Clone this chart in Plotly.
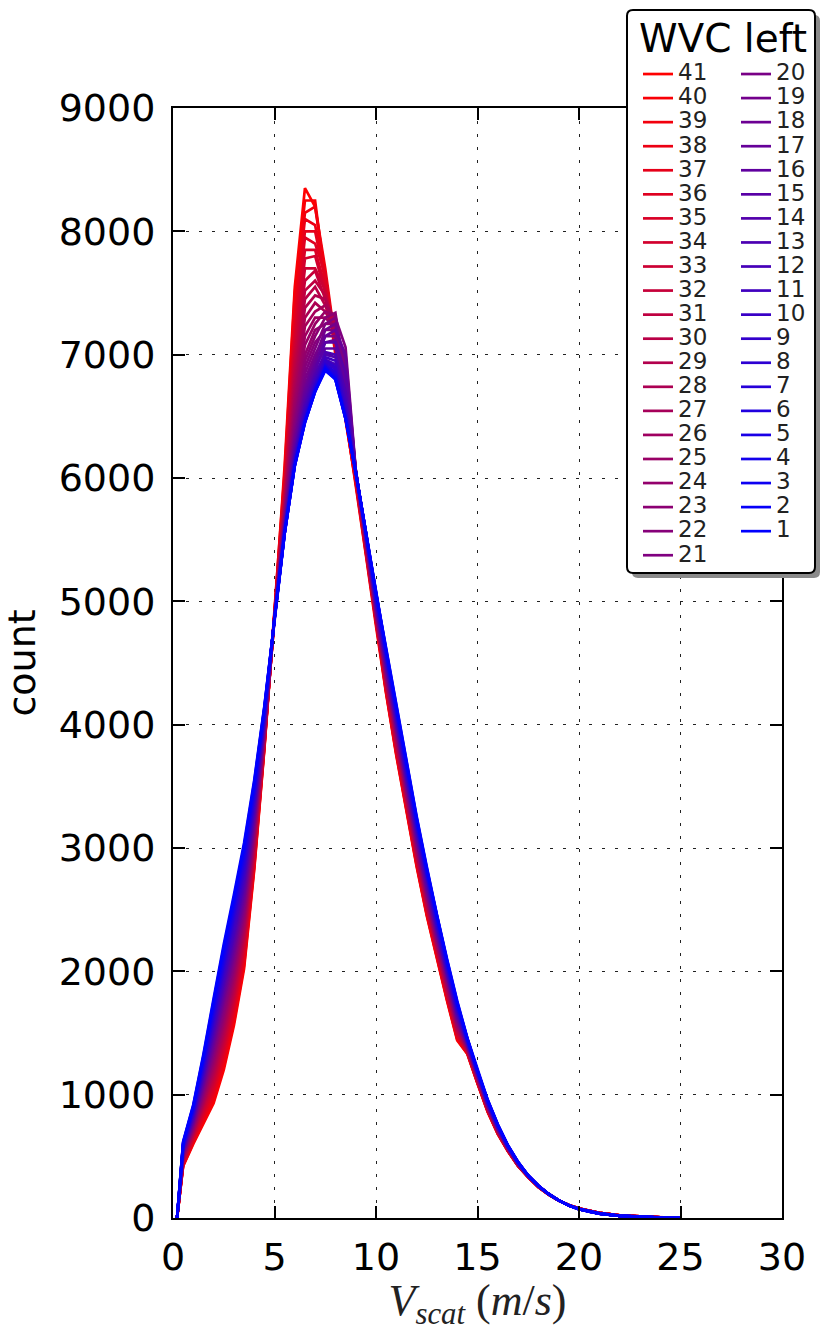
import plotly.graph_objects as go

# wind speed bin positions (m/s)
v_scat = [0.2, 0.5, 1.0, 1.5, 2.0, 2.5, 3.0, 3.5, 4.0, 4.5, 5.0,
          5.5, 6.0, 6.5, 7.0, 7.5, 8.0, 8.5, 9.0, 9.5,
          10.0, 10.5, 11.0, 11.5, 12.0, 12.5, 13.0, 13.5, 14.0, 14.5, 15.0, 15.5, 16.0, 16.5, 17.0, 17.5,
          18.0, 18.5, 19.0, 19.5, 20.0, 20.5, 21.0, 22.0, 23.0, 24.0, 25.0]

wvc41 = [0, 420,600,760,930,1200,1560,2020,2820,3800,4900, 6100,7550,8350,8200,7650,7050,6500,5950,5380, 4800,4250,3750,3300,2850,2450,2100,1760,1440,1330,1090,860,680,540,420,330, 250,190,142,105,78,57,42,22,11,5,2]
wvc40 = [0, 425,608,774,951,1226,1587,2046,2838,3809,4899, 6050,7500,8250,8250,7600,7000,6480,5960,5390, 4807,4259,3760,3310,2860,2460,2109,1769,1448,1333,1093,863,682,541,421,330, 251,190,141,104,77,57,41,21,11,5,2]
wvc39 = [0, 430,616,789,973,1251,1613,2071,2857,3818,4898, 6000,7420,8150,8200,7700,7100,6470,5970,5400, 4814,4269,3771,3320,2871,2470,2118,1777,1456,1337,1096,865,684,543,422,331, 250,191,142,105,78,56,42,22,10,5,2]
wvc38 = [0, 435,624,803,994,1277,1640,2097,2875,3826,4896, 5980,7350,8100,8050,7650,7080,6500,5980,5400, 4820,4278,3781,3330,2881,2480,2127,1786,1464,1340,1098,868,686,544,423,331, 252,190,143,104,77,57,41,21,11,5,2]
wvc37 = [0, 440,632,817,1015,1302,1666,2122,2893,3835,4895, 5950,7300,8000,8000,7600,7100,6490,5990,5410, 4827,4287,3791,3340,2891,2490,2136,1794,1472,1343,1101,870,688,545,424,332, 251,191,142,105,77,56,42,22,11,5,2]
wvc36 = [0, 445,640,831,1036,1328,1693,2148,2911,3844,4894, 5920,7200,7950,7900,7650,7050,6520,5990,5420, 4834,4296,3801,3350,2901,2500,2145,1803,1480,1346,1104,873,690,546,424,332, 252,191,142,104,77,56,41,21,10,5,2]
wvc35 = [0, 450,648,846,1058,1353,1719,2173,2930,3853,4893, 5900,7150,7850,7850,7550,7100,6510,6000,5420, 4841,4306,3812,3360,2912,2510,2154,1811,1488,1350,1107,875,692,548,425,332, 253,191,142,104,76,56,41,21,10,5,2]
wvc34 = [0, 455,656,860,1079,1379,1746,2199,2948,3861,4891, 5870,7080,7780,7800,7500,7080,6530,6000,5430, 4847,4315,3822,3370,2922,2520,2163,1820,1496,1353,1109,878,694,549,426,333, 252,192,142,105,77,56,41,21,10,5,2]
wvc33 = [0, 460,664,874,1100,1404,1772,2224,2966,3870,4890, 5850,7000,7700,7700,7520,7150,6520,6010,5440, 4854,4324,3832,3380,2932,2530,2172,1828,1504,1356,1112,880,696,550,427,333, 253,192,143,104,76,55,40,20,10,5,2]
wvc32 = [0, 465,672,888,1121,1430,1799,2250,2984,3879,4889, 5820,6950,7600,7680,7450,7100,6550,6010,5440, 4861,4333,3842,3390,2942,2540,2181,1837,1512,1359,1115,883,698,551,428,333, 254,192,142,104,76,55,40,20,10,5,2]
wvc31 = [0, 470,680,903,1143,1455,1825,2275,3003,3888,4888, 5800,6880,7520,7600,7480,7200,6560,6020,5450, 4868,4343,3853,3400,2953,2550,2190,1845,1520,1363,1118,885,700,553,429,334, 253,193,142,104,76,55,40,20,10,5,2]
wvc30 = [0, 475,688,917,1164,1481,1852,2301,3021,3896,4886, 5780,6820,7450,7550,7400,7150,6580,6020,5460, 4874,4352,3863,3410,2963,2560,2199,1854,1528,1366,1120,888,702,554,430,334, 254,192,142,104,76,55,40,20,10,5,2]
wvc29 = [0, 480,696,931,1185,1506,1878,2326,3039,3905,4885, 5760,6760,7380,7480,7450,7250,6600,6030,5460, 4881,4361,3873,3420,2973,2570,2208,1862,1536,1369,1123,890,704,555,431,335, 255,193,143,104,76,55,40,20,10,5,2]
wvc28 = [0, 485,704,945,1206,1532,1905,2352,3057,3914,4884, 5740,6700,7300,7420,7350,7200,6620,6030,5470, 4888,4370,3883,3430,2983,2580,2217,1871,1544,1372,1126,893,706,556,431,335, 254,193,142,103,75,54,39,19,10,5,2]
wvc27 = [0, 490,712,960,1228,1557,1931,2377,3076,3923,4883, 5720,6650,7230,7350,7400,7300,6650,6040,5480, 4895,4380,3894,3440,2994,2590,2226,1879,1552,1376,1129,895,708,558,432,335, 255,193,143,104,75,54,39,19,9,5,2]
wvc26 = [0, 495,720,974,1249,1583,1958,2403,3094,3931,4881, 5700,6600,7150,7300,7300,7220,6680,6040,5480, 4901,4389,3904,3450,3004,2600,2235,1888,1560,1379,1131,898,710,559,433,336, 256,194,143,103,75,54,39,19,9,4,2]
wvc25 = [0, 500,728,988,1270,1608,1984,2428,3112,3940,4880, 5690,6550,7080,7250,7350,7320,6700,6050,5490, 4908,4398,3914,3460,3014,2610,2244,1896,1568,1382,1134,900,712,560,434,336, 256,194,143,104,75,54,39,19,9,4,1]
wvc24 = [0, 505,736,1002,1291,1634,2011,2454,3130,3949,4879, 5680,6500,7000,7200,7250,7250,6750,6050,5500, 4915,4407,3924,3470,3024,2620,2253,1905,1576,1385,1137,903,714,561,435,336, 257,194,143,103,74,54,38,19,9,4,1]
wvc23 = [0, 510,744,1017,1313,1659,2037,2479,3149,3958,4878, 5670,6460,6950,7150,7300,7340,6800,6060,5500, 4922,4417,3935,3480,3035,2630,2262,1913,1584,1389,1140,905,716,563,436,337, 257,194,143,103,74,53,38,19,9,4,1]
wvc22 = [0, 515,752,1031,1334,1685,2064,2505,3167,3966,4876, 5660,6420,6900,7100,7200,7200,6900,6060,5510, 4928,4426,3945,3490,3045,2640,2271,1922,1592,1392,1142,908,718,564,437,337, 258,195,143,103,74,53,38,19,9,4,1]
wvc21 = [0, 520,760,1045,1355,1710,2090,2530,3185,3975,4875, 5650,6380,6850,7050,7250,7300,7060,6070,5510, 4935,4435,3955,3500,3055,2650,2280,1930,1600,1395,1145,910,720,565,438,338, 258,194,143,103,74,53,38,19,9,4,1]
wvc20 = [0, 525,768,1059,1376,1736,2117,2556,3203,3984,4874, 5640,6350,6800,7000,7150,7150,6850,6070,5520, 4942,4444,3965,3510,3065,2660,2289,1939,1608,1398,1148,913,722,566,438,338, 258,195,143,103,74,53,38,19,9,4,1]
wvc19 = [0, 530,776,1074,1398,1761,2143,2581,3222,3993,4873, 5630,6320,6750,6980,7200,7250,6950,6070,5520, 4949,4454,3976,3520,3076,2670,2298,1947,1616,1402,1151,915,724,568,439,338, 259,195,143,103,73,52,37,18,9,4,1]
wvc18 = [0, 535,784,1088,1419,1787,2170,2607,3240,4001,4871, 5620,6290,6720,6950,7100,7120,6800,6060,5530, 4955,4463,3986,3530,3086,2680,2307,1956,1624,1405,1153,918,726,569,440,339, 259,195,143,103,73,52,37,18,9,4,1]
wvc17 = [0, 540,792,1102,1440,1812,2196,2632,3258,4010,4870, 5610,6260,6690,6920,7150,7200,7000,6060,5530, 4962,4472,3996,3540,3096,2690,2316,1964,1632,1408,1156,920,728,570,441,339, 260,195,143,102,73,52,37,18,8,4,1]
wvc16 = [0, 545,800,1116,1461,1838,2223,2658,3276,4019,4869, 5600,6240,6660,6900,7050,7050,6750,6060,5540, 4969,4481,4006,3550,3106,2700,2325,1973,1640,1411,1159,923,730,571,442,339, 260,195,143,102,73,52,37,18,8,4,1]
wvc15 = [0, 550,808,1131,1483,1863,2249,2683,3295,4028,4868, 5600,6220,6630,6870,7100,7100,6850,6060,5540, 4976,4491,4017,3560,3117,2710,2334,1981,1648,1415,1162,925,732,573,443,340, 260,195,143,102,73,52,37,18,8,4,1]
wvc14 = [0, 555,816,1145,1504,1889,2276,2709,3313,4036,4866, 5590,6200,6600,6840,7000,6980,6650,6060,5540, 4982,4500,4027,3570,3127,2720,2343,1990,1656,1418,1164,928,734,574,444,340, 261,195,143,102,73,52,37,18,8,4,1]
wvc13 = [0, 560,824,1159,1525,1914,2302,2734,3331,4045,4865, 5590,6190,6580,6820,7020,7000,6700,6050,5550, 4989,4509,4037,3580,3137,2730,2352,1998,1664,1421,1167,930,736,575,445,341, 261,195,143,102,72,51,36,18,8,4,1]
wvc12 = [0, 565,832,1173,1546,1940,2329,2760,3349,4054,4864, 5580,6170,6560,6800,6960,6920,6600,6050,5550, 4996,4518,4047,3590,3147,2740,2361,2007,1672,1424,1170,933,738,576,445,341, 261,195,143,102,72,51,36,18,8,4,1]
wvc11 = [0, 570,840,1188,1568,1965,2355,2785,3368,4063,4863, 5580,6160,6540,6780,6980,6950,6620,6050,5550, 5003,4528,4058,3600,3158,2750,2370,2015,1680,1428,1173,935,740,578,446,341, 262,195,143,102,72,51,36,18,8,4,1]
wvc10 = [0, 575,848,1202,1589,1991,2382,2811,3386,4071,4861, 5570,6150,6520,6760,6940,6880,6550,6050,5550, 5009,4537,4068,3610,3168,2760,2379,2024,1688,1431,1175,938,742,579,447,342, 262,195,143,102,72,51,36,18,8,4,1]
wvc9 = [0, 580,856,1216,1610,2016,2408,2836,3404,4080,4860, 5570,6140,6500,6750,6950,6900,6560,6050,5560, 5016,4546,4078,3620,3178,2770,2388,2032,1696,1434,1178,940,744,580,448,342, 262,195,143,102,72,51,36,18,8,4,1]
wvc8 = [0, 585,864,1230,1631,2042,2435,2862,3422,4089,4859, 5560,6130,6490,6740,6910,6850,6520,6050,5560, 5023,4555,4088,3630,3188,2780,2397,2041,1704,1437,1181,943,746,581,449,342, 262,195,143,102,72,51,36,18,8,4,1]
wvc7 = [0, 590,872,1245,1653,2067,2461,2887,3441,4098,4858, 5560,6120,6480,6730,6920,6860,6500,6050,5560, 5030,4565,4099,3640,3199,2790,2406,2049,1712,1441,1184,945,748,583,450,343, 262,195,143,102,72,51,36,18,8,4,1]
wvc6 = [0, 595,880,1259,1674,2093,2488,2913,3459,4106,4856, 5560,6110,6470,6720,6900,6830,6500,6050,5560, 5036,4574,4109,3650,3209,2800,2415,2058,1720,1444,1186,948,750,584,451,343, 262,195,143,102,72,51,36,18,8,4,1]
wvc5 = [0, 600,888,1273,1695,2118,2514,2938,3477,4115,4855, 5550,6110,6460,6710,6890,6820,6490,6050,5560, 5043,4583,4119,3660,3219,2810,2424,2066,1728,1447,1189,950,752,585,452,344, 262,195,143,102,72,51,36,18,8,4,1]
wvc4 = [0, 605,896,1287,1716,2144,2541,2964,3495,4124,4854, 5550,6100,6460,6710,6880,6810,6490,6050,5560, 5050,4592,4129,3670,3229,2820,2433,2075,1736,1450,1192,953,754,586,452,344, 262,195,143,102,72,51,36,18,8,4,1]
wvc3 = [0, 610,904,1302,1738,2169,2567,2989,3514,4133,4853, 5550,6100,6450,6700,6900,6800,6480,6050,5560, 5057,4602,4140,3680,3240,2830,2442,2083,1744,1454,1195,955,756,588,453,344, 262,195,143,102,72,51,36,18,8,4,1]
wvc2 = [0, 615,912,1316,1759,2195,2594,3015,3532,4141,4851, 5550,6100,6450,6700,6870,6800,6480,6050,5560, 5063,4611,4150,3690,3250,2840,2451,2092,1752,1457,1197,958,758,589,454,345, 262,195,143,102,72,51,36,18,8,4,1]
wvc1 = [0, 620,920,1330,1780,2220,2620,3040,3550,4150,4850, 5550,6100,6450,6700,6880,6800,6480,6050,5560, 5070,4620,4160,3700,3260,2850,2460,2100,1760,1460,1200,960,760,590,455,345, 262,195,143,102,72,51,36,18,8,4,1]

wvc_ids = list(range(41, 0, -1))
series = [wvc41, wvc40, wvc39, wvc38, wvc37, wvc36, wvc35, wvc34, wvc33, wvc32, wvc31,
          wvc30, wvc29, wvc28, wvc27, wvc26, wvc25, wvc24, wvc23, wvc22, wvc21,
          wvc20, wvc19, wvc18, wvc17, wvc16, wvc15, wvc14, wvc13, wvc12, wvc11,
          wvc10, wvc9, wvc8, wvc7, wvc6, wvc5, wvc4, wvc3, wvc2, wvc1]

x_ticks = [0, 5, 10, 15, 20, 25, 30]
y_ticks = [0, 1000, 2000, 3000, 4000, 5000, 6000, 7000, 8000, 9000]

# ---- layout geometry (pixels) ----
W, H = 823, 1331
L, R, T, B = 173, 41, 108, 113
PW, PH = W - L - R, H - T - B


def px(xp):
    return (xp - L) / PW


def py(yp):
    return (H - B - yp) / PH


def cx(xp):
    return xp / W


def cy(yp):
    return 1 - yp / H


def color_for(k):
    t = (k - 1) / 40.0
    return "rgb(%d,0,%d)" % (round(255 * t), round(255 * (1 - t)))


fig = go.Figure()
for k, vals in zip(wvc_ids, series):
    fig.add_trace(go.Scatter(
        x=v_scat, y=vals, mode="lines",
        line=dict(color=color_for(k), width=2.7),
        name='<span style="font-size:23px">%d</span>' % k,
        legend="legend" if k >= 21 else "legend2",
    ))


def rounded_path(x0, y0, x1, y1, r):
    pts = [
        ("M", [(x0 + r, y0)]), ("L", [(x1 - r, y0)]), ("Q", [(x1, y0), (x1, y0 + r)]),
        ("L", [(x1, y1 - r)]), ("Q", [(x1, y1), (x1 - r, y1)]),
        ("L", [(x0 + r, y1)]), ("Q", [(x0, y1), (x0, y1 - r)]),
        ("L", [(x0, y0 + r)]), ("Q", [(x0, y0), (x0 + r, y0)]),
    ]
    s = ""
    for cmd, ps in pts:
        s += cmd + " ".join("%.5f,%.5f" % (px(a), py(b)) for a, b in ps) + " "
    return s + "Z"


box = (627, 10, 815, 573)
shapes = [
    dict(type="path", xref="paper", yref="paper",
         path=rounded_path(box[0] + 5, box[1] + 5, box[2] + 5, box[3] + 5, 6),
         fillcolor="#8a8a8a", line=dict(width=0), layer="above"),
    dict(type="path", xref="paper", yref="paper",
         path=rounded_path(*box, 6),
         fillcolor="white", line=dict(color="black", width=2), layer="above"),
]

annotations = [
    dict(text="WVC left", xref="paper", yref="paper", x=px(637), y=py(39),
         xanchor="left", yanchor="middle", showarrow=False,
         font=dict(family="DejaVu Sans", size=39, color="black")),
]

axis_common = dict(
    showline=True, linecolor="black", linewidth=2, mirror="ticks",
    ticks="inside", ticklen=12, tickwidth=1.5, tickcolor="black",
    showgrid=True, gridcolor="#222222", gridwidth=1, griddash="3px,10px",
    zeroline=False,
    tickfont=dict(family="DejaVu Sans", size=38, color="black"),
)

legend_common = dict(
    xanchor="left", yanchor="top", xref="container", yref="container",
    bgcolor="rgba(0,0,0,0)", borderwidth=0, itemwidth=30,
    font=dict(family="DejaVu Sans", size=16.2, color="#222"),
    traceorder="normal",
)

fig.update_layout(
    width=W, height=H,
    margin=dict(l=L, r=R, t=T, b=B, autoexpand=False),
    paper_bgcolor="white", plot_bgcolor="white",
    shapes=shapes,
    annotations=annotations,
    xaxis=dict(range=[0, 30], tickvals=x_ticks, ticklabelstandoff=4,
               title=dict(text="<i>V</i><sub><i>scat</i></sub> (<i>m</i>/<i>s</i>)",
                          font=dict(family="Liberation Serif", size=44, color="#222"),
                          standoff=8),
               **axis_common),
    yaxis=dict(range=[0, 9000], tickvals=y_ticks, ticklabelstandoff=8,
               title=dict(text="count", font=dict(family="DejaVu Sans", size=38, color="black"),
                          standoff=16),
               **axis_common),
    legend=dict(x=cx(638), y=cy(57), **legend_common),
    legend2=dict(x=cx(736), y=cy(57), **legend_common),
    showlegend=True,
)

fig.write_html("out.html")
